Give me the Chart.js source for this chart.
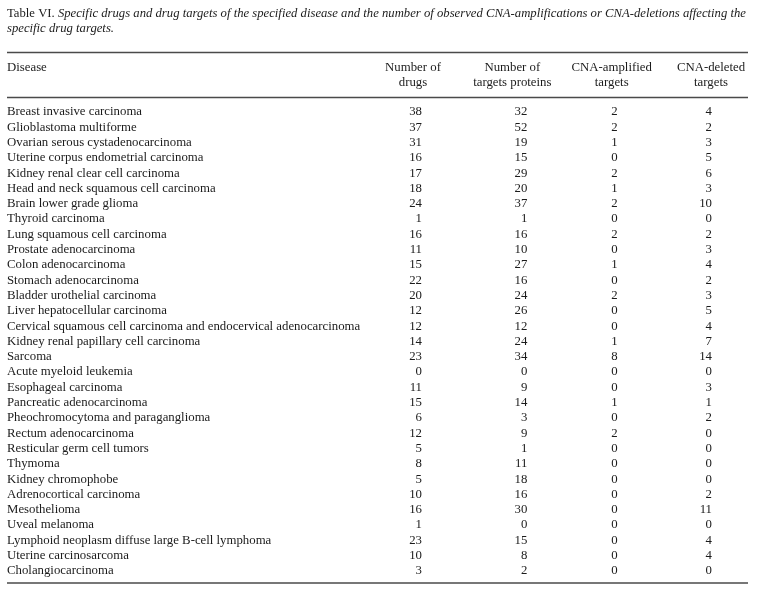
<!DOCTYPE html>
<html>
<head>
<meta charset="utf-8">
<title>Table VI</title>
<script src="https://cdn.jsdelivr.net/npm/chart.js@4.4.1/dist/chart.umd.min.js"></script>
<style>
  html, body { margin: 0; padding: 0; background: #fff; }
  #tableChart { display: block; }
</style>
</head>
<body>
<canvas id="tableChart" width="757" height="597"></canvas>
<script>
// Table content
const titleLead = 'Table VI. ';
const titleLine1 = 'Specific drugs and drug targets of the specified disease and the number of observed CNA-amplifications or CNA-deletions affecting the';
const titleLine2 = 'specific drug targets.';
const rowHeader = 'Disease';
const columnHeaders = [
    ['Number of', 'drugs'],
    ['Number of', 'targets proteins'],
    ['CNA-amplified', 'targets'],
    ['CNA-deleted', 'targets']
];

const diseases = [
    'Breast invasive carcinoma',
    'Glioblastoma multiforme',
    'Ovarian serous cystadenocarcinoma',
    'Uterine corpus endometrial carcinoma',
    'Kidney renal clear cell carcinoma',
    'Head and neck squamous cell carcinoma',
    'Brain lower grade glioma',
    'Thyroid carcinoma',
    'Lung squamous cell carcinoma',
    'Prostate adenocarcinoma',
    'Colon adenocarcinoma',
    'Stomach adenocarcinoma',
    'Bladder urothelial carcinoma',
    'Liver hepatocellular carcinoma',
    'Cervical squamous cell carcinoma and endocervical adenocarcinoma',
    'Kidney renal papillary cell carcinoma',
    'Sarcoma',
    'Acute myeloid leukemia',
    'Esophageal carcinoma',
    'Pancreatic adenocarcinoma',
    'Pheochromocytoma and paraganglioma',
    'Rectum adenocarcinoma',
    'Resticular germ cell tumors',
    'Thymoma',
    'Kidney chromophobe',
    'Adrenocortical carcinoma',
    'Mesothelioma',
    'Uveal melanoma',
    'Lymphoid neoplasm diffuse large B-cell lymphoma',
    'Uterine carcinosarcoma',
    'Cholangiocarcinoma'
];

const numberOfDrugs   = [38, 37, 31, 16, 17, 18, 24, 1, 16, 11, 15, 22, 20, 12, 12, 14, 23, 0, 11, 15, 6, 12, 5, 8, 5, 10, 16, 1, 23, 10, 3];
const numberOfTargets = [32, 52, 19, 15, 29, 20, 37, 1, 16, 10, 27, 16, 24, 26, 12, 24, 34, 0, 9, 14, 3, 9, 1, 11, 18, 16, 30, 0, 15, 8, 2];
const amplifiedTargets = [2, 2, 1, 0, 2, 1, 2, 0, 2, 0, 1, 0, 2, 0, 0, 1, 8, 0, 0, 1, 0, 2, 0, 0, 0, 0, 0, 0, 0, 0, 0];
const deletedTargets   = [4, 2, 3, 5, 6, 3, 10, 0, 2, 3, 4, 2, 3, 5, 4, 7, 14, 0, 3, 1, 2, 0, 0, 0, 0, 2, 11, 0, 4, 4, 0];

const columnValues = [numberOfDrugs, numberOfTargets, amplifiedTargets, deletedTargets];

// Look
const serif = '"Liberation Serif", "Times New Roman", serif';
const textColor = '#1b1b1b';
const ruleColor = '#4a4a4a';
const bodySize = 12.8;
// nudge of the right edge of the numbers relative to the column centre
const numberShift = [9, 15, 6, 1];

// Draw the numbers of every cell at the point the scales give it
const cellTextPlugin = {
    id: 'cellText',
    afterDatasetsDraw(chart) {
        const ctx = chart.ctx;
        ctx.save();
        ctx.font = bodySize + 'px ' + serif;
        ctx.fillStyle = textColor;
        ctx.textAlign = 'right';
        ctx.textBaseline = 'middle';
        chart.data.datasets.forEach((ds, i) => {
            const meta = chart.getDatasetMeta(i);
            meta.data.forEach((pt, k) => {
                ctx.fillText(String(ds.data[k].v), pt.x + numberShift[i], pt.y);
            });
        });
        ctx.restore();
    }
};

// Caption, row header and the three horizontal rules
const tableFramePlugin = {
    id: 'tableFrame',
    beforeDraw(chart) {
        const ctx = chart.ctx;
        const area = chart.chartArea;
        const x0 = 7, x1 = 748;
        ctx.save();
        ctx.fillStyle = textColor;
        ctx.textBaseline = 'middle';
        ctx.textAlign = 'left';

        ctx.font = '12.7px ' + serif;
        ctx.fillText(titleLead, x0, 14);
        const leadW = ctx.measureText(titleLead).width;
        ctx.font = 'italic 12.7px ' + serif;
        ctx.fillText(titleLine1, x0 + leadW, 14);
        ctx.fillText(titleLine2, x0, 29);

        ctx.font = bodySize + 'px ' + serif;
        ctx.fillText(rowHeader, x0, 68);

        ctx.strokeStyle = ruleColor;
        ctx.lineWidth = 1.4;
        [52.5, 97.5, area.bottom + 12].forEach(y => {
            ctx.beginPath();
            ctx.moveTo(x0, y);
            ctx.lineTo(x1, y);
            ctx.stroke();
        });
        ctx.restore();
    }
};

const datasets = columnValues.map((values, j) => ({
    label: columnHeaders[j].join(' '),
    data: diseases.map((d, k) => ({ x: j, y: d, v: values[k] })),
    pointRadius: 0,
    pointHoverRadius: 0,
    showLine: false
}));

const tableChart = new Chart(document.getElementById('tableChart').getContext('2d'), {
    type: 'scatter',
    data: { datasets: datasets },
    options: {
        responsive: false,
        animation: false,
        devicePixelRatio: 1,
        events: [],
        layout: {
            padding: { top: 0, left: 7, right: 46, bottom: 26 }
        },
        plugins: {
            legend: { display: false },
            tooltip: { enabled: false },
            title: { display: false }
        },
        scales: {
            x: {
                type: 'linear',
                position: 'top',
                min: 0,
                max: columnHeaders.length - 1,
                grid: { display: false, drawTicks: false },
                border: { display: false },
                ticks: {
                    stepSize: 1,
                    autoSkip: false,
                    maxRotation: 0,
                    padding: 22,
                    color: textColor,
                    font: { family: serif, size: bodySize, lineHeight: 1.18 },
                    callback: value => columnHeaders[value]
                },
                afterFit: scale => {
                    scale.height = 112;
                    scale.paddingLeft = 0;
                    scale.paddingRight = 0;
                }
            },
            y: {
                type: 'category',
                labels: diseases,
                offset: false,
                grid: { display: false, drawTicks: false },
                border: { display: false },
                ticks: {
                    autoSkip: false,
                    crossAlign: 'far',
                    color: textColor,
                    font: { family: serif, size: bodySize }
                },
                afterFit: scale => { scale.width = 406; }
            }
        }
    },
    plugins: [tableFramePlugin, cellTextPlugin]
});
</script>
</body>
</html>
